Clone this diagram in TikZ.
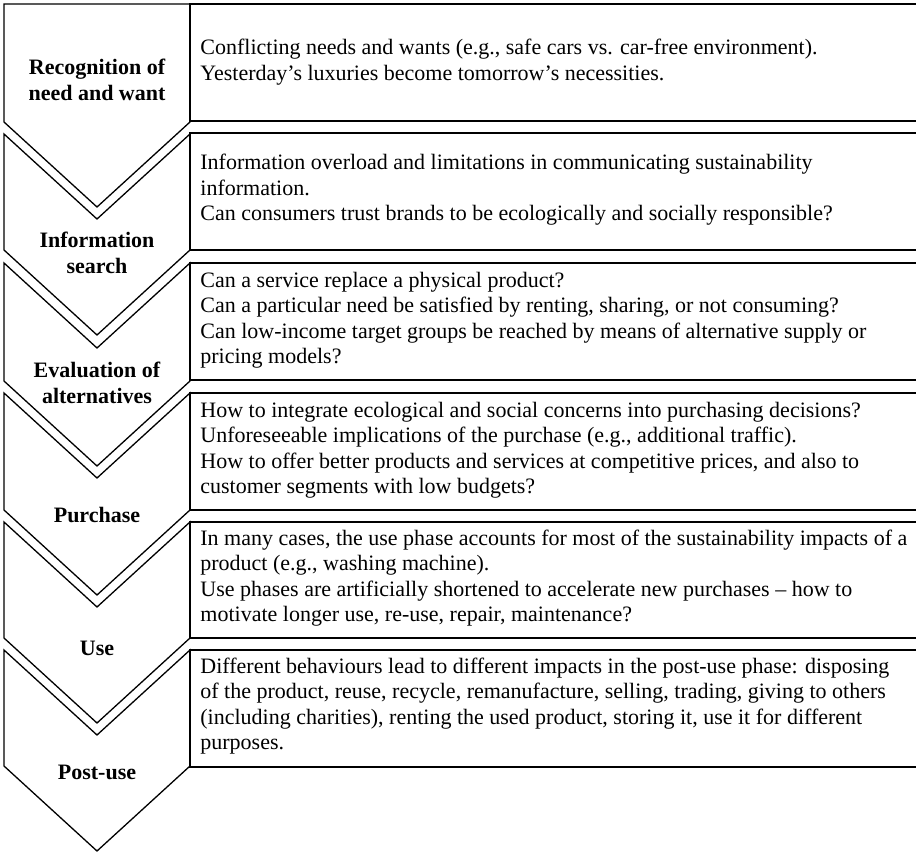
\documentclass[tikz,border=0pt]{standalone}
\usepackage{fontspec}
\setmainfont{Liberation Serif}

\begin{document}
\begin{tikzpicture}[x=0.5pt,y=-0.5pt,
    stage/.style={draw=black,line width=0.65pt,line join=miter},
    issuebox/.style={draw=black,line width=0.65pt},
    stagelabel/.style={font=\fontsize{11}{12.75}\selectfont\bfseries,align=center,inner sep=0pt},
    issue/.style={font=\fontsize{11}{12.75}\selectfont,align=left,anchor=west,inner sep=0pt}]
    \useasboundingbox (0,0) rectangle (916,853);

    % chevrons
    \draw[stage] (4,4) -- (190,4) -- (190,122) -- (97,207) -- (4,122) -- cycle;
    \draw[stage] (4,134) -- (97,219) -- (190,134) -- (190,250) -- (97,335) -- (4,250) -- cycle;
    \draw[stage] (4,263) -- (97,348) -- (190,263) -- (190,381) -- (97,466) -- (4,381) -- cycle;
    \draw[stage] (4,393) -- (97,478) -- (190,393) -- (190,510) -- (97,595) -- (4,510) -- cycle;
    \draw[stage] (4,522) -- (97,607) -- (190,522) -- (190,638) -- (97,723) -- (4,638) -- cycle;
    \draw[stage] (4,650) -- (97,735) -- (190,650) -- (190,766) -- (97,851) -- (4,766) -- cycle;

    \node[stagelabel] (need) at (97,80) {Recognition of\\need and want};
    \node[stagelabel] (search) at (97,253) {Information\\search};
    \node[stagelabel] (eval) at (97,383) {Evaluation of\\alternatives};
    \node[stagelabel] (purchase) at (97,515) {Purchase};
    \node[stagelabel] (use) at (97,648) {Use};
    \node[stagelabel] (postuse) at (97,772) {Post-use};

    % boxes
    \draw[issuebox] (918,4) -- (190,4) -- (190,121) -- (918,121);
    \draw[issuebox] (918,133) -- (190,133) -- (190,250) -- (918,250);
    \draw[issuebox] (918,263) -- (190,263) -- (190,380) -- (918,380);
    \draw[issuebox] (918,393) -- (190,393) -- (190,510) -- (918,510);
    \draw[issuebox] (918,522) -- (190,522) -- (190,638) -- (918,638);
    \draw[issuebox] (918,650) -- (190,650) -- (190,767) -- (918,767);

    \node[issue] (needtext) at (200,62) {Conflicting needs and wants (e.g., safe cars vs. car-free environment).\\Yesterday’s luxuries become tomorrow’s necessities.};
    \node[issue] (searchtext) at (200,190) {Information overload and limitations in communicating sustainability\\information.\\Can consumers trust brands to be ecologically and socially responsible?};
    \node[issue] (evaltext) at (200,320) {Can a service replace a physical product?\\Can a particular need be satisfied by renting, sharing, or not consuming?\\Can low-income target groups be reached by means of alternative supply or\\pricing models?};
    \node[issue] (purchasetext) at (200,450) {How to integrate ecological and social concerns into purchasing decisions?\\Unforeseeable implications of the purchase (e.g., additional traffic).\\How to offer better products and services at competitive prices, and also to\\customer segments with low budgets?};
    \node[issue] (usetext) at (200,578) {In many cases, the use phase accounts for most of the sustainability impacts of a\\product (e.g., washing machine).\\Use phases are artificially shortened to accelerate new purchases – how to\\motivate longer use, re-use, repair, maintenance?};
    \node[issue] (postusetext) at (200,706) {Different behaviours lead to different impacts in the post-use phase: disposing\\of the product, reuse, recycle, remanufacture, selling, trading, giving to others\\(including charities), renting the used product, storing it, use it for different\\purposes.};
\end{tikzpicture}
\end{document}
